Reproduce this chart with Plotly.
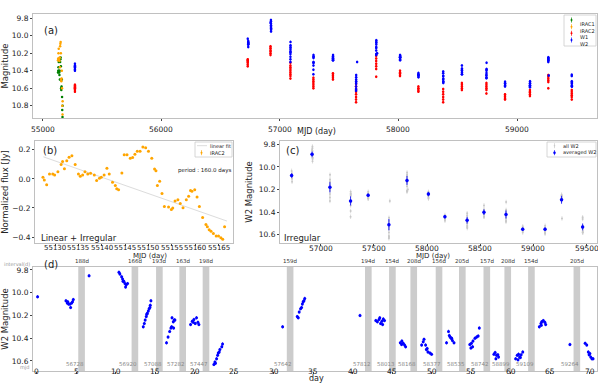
import plotly.graph_objects as go

# ---- panel (b): Spitzer IRAC2 normalized flux ----
b_mjd = [55127.4, 55127.7, 55128.2, 55128.8, 55129.5, 55129.9, 55130.6, 55131.3, 55131.6, 55132.0,
         55132.5, 55133.0, 55133.6, 55134.3, 55135.0, 55135.4, 55135.9, 55136.4, 55137.0, 55137.6,
         55138.4, 55138.9, 55139.5, 55139.9, 55140.5, 55141.1, 55141.6, 55142.3, 55142.9, 55143.2,
         55143.6, 55144.3, 55144.8, 55145.4, 55146.1, 55146.6, 55147.1, 55147.6, 55148.2, 55148.8,
         55149.4, 55150.0, 55150.7, 55151.3, 55151.6, 55151.9, 55152.4, 55152.9, 55153.4, 55154.3,
         55154.9, 55155.2, 55155.7, 55156.3, 55156.8, 55157.4, 55158.1, 55158.6, 55159.0, 55159.3,
         55159.9, 55160.4, 55160.9, 55161.6, 55162.3, 55162.6, 55163.0, 55163.4, 55163.9, 55164.5,
         55165.0, 55165.5, 55165.9, 55166.3]
b_flux = [0.011, -0.007, -0.04, 0.034, 0.034, 0.027, 0.05, 0.10, 0.12, 0.07,
          0.125, 0.15, 0.16, 0.10, 0.034, 0.018, 0.027, 0.05, 0.034, 0.039,
          0.027, -0.011, 0.005, 0.011, 0.027, 0.073, 0.034, -0.023, -0.045, -0.068,
          -0.075, 0.04, 0.166, 0.166, 0.143, 0.148, 0.17, 0.19, 0.19, 0.22,
          0.215, 0.19, 0.143, 0.068, 0.057, -0.045, -0.016, -0.10, -0.19, -0.193,
          -0.21, -0.20, -0.152, -0.143, -0.17, -0.198, -0.143, -0.12, -0.08, -0.084,
          -0.075, -0.125, -0.19, -0.266, -0.314, -0.33, -0.35, -0.36, -0.375, -0.393,
          -0.393, -0.405, -0.416, -0.33]
fit_mjd = [55127.5, 55166.8]
fit_flux = [0.152, -0.29]

# ---- panel (a): IRAC magnitudes ----
irac_mjd = [55127, 55129, 55131, 55133, 55135, 55137, 55139, 55141, 55143, 55145, 55147,
            55149, 55151, 55153, 55155, 55157, 55159, 55161, 55163, 55165, 55166]
irac1_mag = [10.42, 10.40, 10.36, 10.30, 10.40, 10.42, 10.45, 10.40, 10.50, 10.30, 10.27,
             10.25, 10.35, 10.60, 10.62, 10.58, 10.50, 10.70, 10.85, 10.93, 10.80]
irac2_mag = [10.28, 10.26, 10.20, 10.15, 10.27, 10.26, 10.29, 10.25, 10.36, 10.12, 10.09,
             10.07, 10.20, 10.50, 10.52, 10.49, 10.40, 10.60, 10.80, 10.90, 10.75]

# ---- WISE epochs ----
epoch_mjd = [56728, 56920, 57088, 57282, 57447, 57642, 57812, 58013, 58168, 58377, 58535,
             58742, 58899, 59109, 59264, 59462]

w2_2010_mjd = 55270
w2_2010 = [10.32, 10.34, 10.35, 10.36, 10.38, 10.39, 10.40]

w1_mjd = [55270] + epoch_mjd
w1_mags = [
    [10.56, 10.58, 10.60, 10.61, 10.62, 10.59, 10.64, 10.57],
    [10.27, 10.29, 10.30, 10.31, 10.33, 10.35, 10.28],
    [10.12, 10.14, 10.15, 10.17, 10.18, 10.20, 10.22],
    [10.31, 10.34, 10.36, 10.38, 10.40, 10.42, 10.44, 10.46, 10.49],
    [10.48, 10.50, 10.52, 10.54, 10.56, 10.58, 10.60],
    [10.43, 10.45, 10.46, 10.48, 10.50],
    [10.55, 10.58, 10.61, 10.64, 10.67, 10.70, 10.73, 10.76],
    [10.23, 10.26, 10.29, 10.32, 10.35, 10.38, 10.47],
    [10.40, 10.42, 10.43, 10.45, 10.46],
    [10.58, 10.60, 10.61, 10.63, 10.64],
    [10.61, 10.64, 10.67, 10.70, 10.73, 10.76],
    [10.54, 10.56, 10.58, 10.60, 10.62],
    [10.54, 10.56, 10.58, 10.60, 10.62, 10.66],
    [10.67, 10.69, 10.70, 10.72, 10.73],
    [10.62, 10.64, 10.65, 10.67, 10.69],
    [10.45, 10.47, 10.49, 10.51, 10.53, 10.60],
    [10.62, 10.64, 10.66, 10.68, 10.70, 10.73],
]

# W2 per epoch on the gap-compressed "day" axis (panel d)
w2_days = [
    [0.08, 3.67, 3.84, 3.9, 4.0, 4.18, 4.26, 4.39, 4.5, 4.6],
    [6.6, 10.38, 10.5, 10.72, 10.84, 10.9, 11.0, 11.14, 11.22, 11.3, 11.47],
    [13.46, 13.59, 13.7, 13.84, 13.9, 13.97, 14.1, 14.2, 14.3, 14.35, 14.43],
    [16.4, 16.6, 16.8, 16.96, 17.05, 17.1, 17.26, 17.3, 17.38, 17.47],
    [19.45, 19.66, 19.79, 19.87, 20.04, 20.2, 20.38, 20.5],
    [22.4, 22.53, 22.6, 22.74, 22.87, 22.95, 23.08, 23.16, 23.4, 23.5, 31.1],
    [32.95, 33.08, 33.2, 33.37, 33.5, 33.6, 33.7, 33.8, 33.9, 40.9],
    [42.9, 43.1, 43.3, 43.4, 43.5, 43.67, 43.76, 43.85, 44.0],
    [46.0, 46.16, 46.2, 46.37, 46.54, 46.67],
    [48.7, 48.9, 49.0, 49.2, 49.3, 49.4, 49.5, 49.75, 49.96],
    [51.85, 52.1, 52.2, 52.3, 52.45, 52.5, 52.6, 52.8],
    [54.8, 54.93, 55.0, 55.15, 55.2, 55.45, 55.66, 55.86, 56.0],
    [57.85, 58.0, 58.1, 58.18, 58.35, 58.44],
    [60.6, 60.8, 60.9, 60.97, 61.1, 61.2, 61.3, 61.5],
    [63.6, 63.8, 63.85, 63.9, 64.1, 64.3, 64.4, 67.47],
    [69.4, 69.6, 69.8, 69.9, 70.0, 70.1, 70.26, 70.4],
]
w2_mags = [
    [10.035, 10.07, 10.09, 10.08, 10.10, 10.10, 10.13, 10.09, 10.08, 10.06],
    [9.85, 9.82, 9.835, 9.86, 9.88, 9.90, 9.90, 9.92, 9.95, 9.93, 9.92],
    [10.30, 10.27, 10.24, 10.21, 10.19, 10.18, 10.16, 10.14, 10.13, 10.11, 10.07],
    [10.44, 10.39, 10.34, 10.31, 10.30, 10.22, 10.255, 10.31, 10.24, 10.24],
    [10.28, 10.25, 10.26, 10.235, 10.27, 10.22, 10.26, 10.28],
    [10.63, 10.61, 10.62, 10.58, 10.55, 10.53, 10.52, 10.50, 10.475, 10.45, 10.30],
    [10.21, 10.22, 10.17, 10.14, 10.13, 10.10, 10.08, 10.07, 10.05, 10.20],
    [10.245, 10.255, 10.235, 10.22, 10.27, 10.25, 10.28, 10.23, 10.245],
    [10.44, 10.455, 10.425, 10.445, 10.46, 10.475],
    [10.46, 10.43, 10.41, 10.46, 10.50, 10.49, 10.52, 10.53, 10.54],
    [10.44, 10.34, 10.375, 10.39, 10.40, 10.40, 10.42, 10.44],
    [10.455, 10.485, 10.445, 10.475, 10.425, 10.40, 10.39, 10.38, 10.31],
    [10.54, 10.525, 10.58, 10.55, 10.545, 10.565],
    [10.58, 10.55, 10.59, 10.54, 10.565, 10.57, 10.545, 10.52],
    [10.30, 10.27, 10.285, 10.255, 10.245, 10.26, 10.28, 10.455],
    [10.445, 10.46, 10.52, 10.545, 10.535, 10.565, 10.58, 10.58],
]

# panel (c): averaged W2 per epoch
avg_w2 = [10.076, 9.889, 10.18, 10.30, 10.25, 10.51, 10.12, 10.24, 10.44, 10.47, 10.40,
          10.42, 10.55, 10.55, 10.29, 10.53]
avg_w2_err = [0.02, 0.025, 0.045, 0.04, 0.015, 0.05, 0.04, 0.02, 0.015, 0.03, 0.025,
              0.035, 0.015, 0.015, 0.035, 0.03]

# panel (d): gaps between epochs
gap_day = [5.65, 12.4, 15.5, 18.45, 21.4, 32.05, 41.95, 45.0, 47.7, 50.9, 53.85, 56.95,
           59.6, 62.6, 68.35]
gap_label = ["188d", "166d", "193d", "163d", "198d", "159d", "194d", "154d", "208d", "156d",
             "205d", "157d", "208d", "154d", "205d"]

# x tick values per panel
ticks_a = [55000, 56000, 57000, 58000, 59000]
ticks_b = [55130, 55135, 55140, 55145, 55150, 55155, 55160, 55165]
ticks_c = [57000, 57500, 58000, 58500, 59000, 59500]
ticks_d = list(range(0, 71, 5))

FONT = "DejaVu Sans"
W, H = 598, 389


def px(x):
    return x / W


def py(y):
    return 1 - y / H


def ebar(color, v=0.015):
    return dict(type="constant", value=v, thickness=0.7, width=0, color=color)


# flatten the W2 epochs into MJD (a, c) and day (d)
w2_mjd_all, w2_mag_all, w2_day_all = [], [], []
for m, days, mags in zip(epoch_mjd, w2_days, w2_mags):
    for d, g in zip(days, mags):
        w2_mjd_all.append(m + d - days[0])
        w2_mag_all.append(g)
        w2_day_all.append(d)

w1_x, w1_y = [], []
for m, mags in zip(w1_mjd, w1_mags):
    w1_x += [m] * len(mags)
    w1_y += mags

a_w2_x = [w2_2010_mjd] * len(w2_2010) + w2_mjd_all
a_w2_y = w2_2010 + w2_mag_all

fig = go.Figure()

# (a)
fig.add_trace(go.Scatter(x=irac_mjd, y=irac1_mag, mode="markers", name="IRAC1",
                         marker=dict(color="green", size=2.5), error_y=ebar("green", 0.01),
                         xaxis="x", yaxis="y"))
fig.add_trace(go.Scatter(x=irac_mjd, y=irac2_mag, mode="markers", name="IRAC2",
                         marker=dict(color="orange", size=2.5), error_y=ebar("orange", 0.01),
                         xaxis="x", yaxis="y"))
fig.add_trace(go.Scatter(x=w1_x, y=w1_y, mode="markers", name="W1",
                         marker=dict(color="red", size=2.5), error_y=ebar("red"),
                         xaxis="x", yaxis="y"))
fig.add_trace(go.Scatter(x=a_w2_x, y=a_w2_y, mode="markers", name="W2",
                         marker=dict(color="blue", size=2.5), error_y=ebar("blue"),
                         xaxis="x", yaxis="y"))

# (b)
fig.add_trace(go.Scatter(x=fit_mjd, y=fit_flux, mode="lines", name="linear fit",
                         line=dict(color="#dcdcdc", width=1), xaxis="x2", yaxis="y2"))
fig.add_trace(go.Scatter(x=b_mjd, y=b_flux, mode="markers", name="IRAC2",
                         marker=dict(color="orange", size=3), error_y=ebar("orange", 0.004),
                         xaxis="x2", yaxis="y2"))

# (c)
fig.add_trace(go.Scatter(x=w2_mjd_all, y=w2_mag_all, mode="markers", name="all W2",
                         marker=dict(color="#c8c8c8", size=2), error_y=ebar("#d0d0d0", 0.02),
                         xaxis="x3", yaxis="y3"))
fig.add_trace(go.Scatter(x=epoch_mjd, y=avg_w2, mode="markers", name="averaged W2",
                         marker=dict(color="blue", size=3.5),
                         error_y=dict(type="data", array=avg_w2_err, thickness=0.8, width=0,
                                      color="blue"),
                         xaxis="x3", yaxis="y3"))

# (d)
fig.add_trace(go.Scatter(x=w2_day_all, y=w2_mag_all, mode="markers", name="W2",
                         marker=dict(color="blue", size=3), error_y=ebar("blue"),
                         xaxis="x4", yaxis="y4"))

axis_style = dict(showline=True, mirror=True, linecolor="#c0c0c0", linewidth=1,
                  ticks="outside", ticklen=2, tickcolor="#444", showgrid=False,
                  zeroline=False, tickfont=dict(size=7.5, color="#222"), tickangle=0)
# x tick labels are placed as annotations so they can sit close to the axis
x_style = dict(axis_style, showticklabels=False)
title_font = dict(size=8.5, color="#222")

shapes = []
annotations = []


def note(txt, x, y, size=8.5, anchor="left", color="#222"):
    annotations.append(dict(x=px(x), y=py(y), xref="paper", yref="paper", text=txt,
                            xanchor=anchor, showarrow=False, borderpad=0,
                            font=dict(size=size, color=color)))


def xtick_labels(xref, vals, y, size=7.5):
    for v in vals:
        annotations.append(dict(x=v, y=py(y), xref=xref, yref="paper", text=str(v),
                                showarrow=False, borderpad=0,
                                font=dict(size=size, color="#222")))


xtick_labels("x", ticks_a, 123.5)
xtick_labels("x2", ticks_b, 248, 7)
xtick_labels("x3", ticks_c, 248, 7.5)
xtick_labels("x4", ticks_d, 377)

# gap bars and their labels in (d)
for c, lab, m in zip(gap_day, gap_label, epoch_mjd):
    shapes.append(dict(type="rect", xref="x4", yref="y4 domain", x0=c - 0.42, x1=c + 0.42,
                       y0=0, y1=1, fillcolor="#cccccc", line=dict(width=0), layer="below"))
    annotations.append(dict(x=c, y=py(265), xref="x4", yref="paper", text=lab,
                            showarrow=False, borderpad=0, font=dict(size=5.5, color="#333")))
    annotations.append(dict(x=c + 0.42, y=py(368), xref="x4", yref="paper", text=str(m),
                            xanchor="right", showarrow=False, borderpad=0,
                            font=dict(size=5.5, color="#888")))

note("(a)", 43, 24, 10)
note("(b)", 42, 150, 10)
note("(c)", 285, 150, 10)
note("(d)", 43, 271, 10)
note("Linear + Irregular", 40, 238, 8.5)
note("Irregular", 283, 238, 8.5)
note("period : 160.0 days", 232, 170, 5.5, "right")
note("interval(d)", 3, 268, 5, color="#999")
note("mjd", 19, 371.5, 5, color="#999")

# x-axis titles
note("MJD (day)", 316, 131, 8, "center")
note("MJD (day)", 150, 255.5, 7, "center")
note("MJD (day)", 433, 255.5, 7, "center")
note("day", 316, 384, 8, "center")


# compact legends drawn in paper coordinates
def legend_box(x0, y0, x1, y1):
    shapes.append(dict(type="rect", xref="paper", yref="paper", x0=px(x0), x1=px(x1),
                       y0=py(y1), y1=py(y0), fillcolor="white",
                       line=dict(color="#cccccc", width=0.8)))


def legend_marker(x, y, color, r=1.0):
    shapes.append(dict(type="line", xref="paper", yref="paper", x0=px(x), x1=px(x),
                       y0=py(y + 2.5), y1=py(y - 2.5), line=dict(color=color, width=0.7)))
    shapes.append(dict(type="circle", xref="paper", yref="paper", x0=px(x - r), x1=px(x + r),
                       y0=py(y + r), y1=py(y - r), fillcolor=color, line=dict(width=0)))


legend_box(564, 15, 596, 46)
for lab, col, y in [("IRAC1", "green", 20), ("IRAC2", "orange", 26.7),
                    ("W1", "red", 33.3), ("W2", "blue", 40)]:
    legend_marker(571.5, y, col)
    note(lab, 578.5, y, 5)

legend_box(195, 142, 232, 157)
shapes.append(dict(type="line", xref="paper", yref="paper", x0=px(197), x1=px(207),
                   y0=py(145.7), y1=py(145.7), line=dict(color="#dcdcdc", width=1)))
note("linear fit", 208.5, 145.7, 5)
legend_marker(201.5, 152.7, "orange")
note("IRAC2", 208.5, 152.7, 5)

legend_box(547, 142, 596, 157)
legend_marker(554.5, 145.7, "#c8c8c8", 0.8)
note("all W2", 561.5, 145.7, 5)
legend_marker(554.5, 152.7, "blue", 1.3)
note("averaged W2", 561.5, 152.7, 5)

fig.update_layout(
    width=W, height=H, margin=dict(l=0, r=0, t=0, b=0),
    paper_bgcolor="white", plot_bgcolor="white", showlegend=False,
    font=dict(family=FONT, color="#222"),
    xaxis=dict(domain=[px(33), px(597)], anchor="y", range=[54916, 59675],
               tickvals=ticks_a, **x_style),
    yaxis=dict(domain=[py(118), py(14)], anchor="x", range=[10.941, 9.751],
               tickvals=[9.8, 10.0, 10.2, 10.4, 10.6, 10.8], tickformat=".1f",
               title=dict(text="Magnitude", font=title_font, standoff=4), **axis_style),
    xaxis2=dict(domain=[px(35), px(233)], anchor="y2", range=[55125.7, 55168.1],
                tickvals=ticks_b, **x_style),
    yaxis2=dict(domain=[py(243), py(141)], anchor="x2", range=[-0.441, 0.261],
                tickvals=[0.2, 0.0, -0.2, -0.4], tickformat=".1f",
                title=dict(text="Normalized flux [Jy]", font=title_font, standoff=4),
                **axis_style),
    xaxis3=dict(domain=[px(280), px(597)], anchor="y3", range=[56619, 59597],
                tickvals=ticks_c, **x_style),
    yaxis3=dict(domain=[py(243), py(141)], anchor="x3", range=[10.672, 9.771],
                tickvals=[9.8, 10.0, 10.2, 10.4, 10.6], tickformat=".1f",
                title=dict(text="W2 Magnitude", font=title_font, standoff=4), **axis_style),
    xaxis4=dict(domain=[px(33), px(597)], anchor="y4", range=[-0.5, 70.9],
                tickvals=ticks_d, **x_style),
    yaxis4=dict(domain=[py(371), py(267)], anchor="x4", range=[10.688, 9.774],
                tickvals=[9.8, 10.0, 10.2, 10.4, 10.6], tickformat=".1f",
                title=dict(text="W2 Magnitude", font=title_font, standoff=4), **axis_style),
    shapes=shapes,
    annotations=annotations,
)

fig.write_html("out.html", config={"displayModeBar": False},
               post_script="document.body.style.margin='0px';")
